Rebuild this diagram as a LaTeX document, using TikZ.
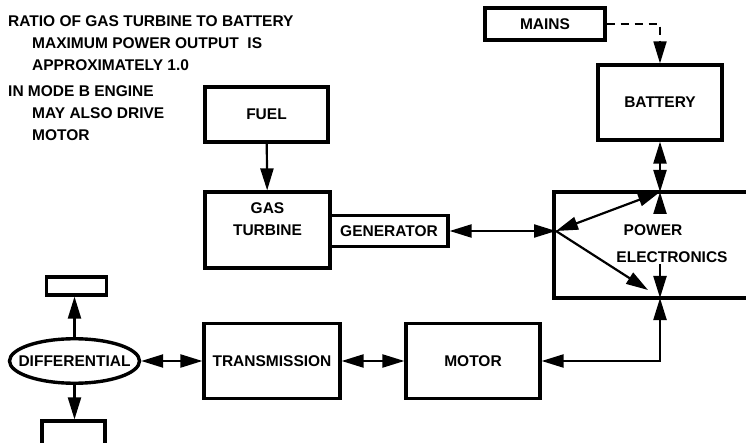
\documentclass[tikz,border=0pt]{standalone}
\usepackage{fontspec}
\setmainfont{Liberation Sans}
\usetikzlibrary{arrows.meta,shapes.geometric}
\tikzset{
  box/.style={draw, line width=3.2pt, inner sep=0pt},
  note/.style={anchor=north west, align=left, inner sep=0pt},
  link/.style={line width=2.2pt, -{Triangle[length=22pt,width=13pt]}},
  twoway/.style={line width=2.2pt, {Triangle[length=22pt,width=13pt]}-{Triangle[length=22pt,width=13pt]}},
}
\begin{document}
\begin{tikzpicture}[x=1pt, y=-1pt, font=\fontsize{15.5}{22}\selectfont\bfseries]
        \useasboundingbox (0,0) rectangle (746,443);
        \node[note] (ratio) at (8,15) {RATIO OF GAS TURBINE TO BATTERY\\\hspace*{24pt}MAXIMUM POWER OUTPUT\ \ IS\\\hspace*{24pt}APPROXIMATELY 1.0};
        \node[note] (mode) at (8,85) {IN MODE B ENGINE\\\hspace*{24pt}MAY ALSO DRIVE\\\hspace*{24pt}MOTOR};
        \node[box, minimum width=120pt, minimum height=32pt] (mains) at (545,24) {MAINS};
        \node[box, minimum width=124pt, minimum height=75pt] (battery) at (660,102.5) {BATTERY};
        \node[box, minimum width=216pt, minimum height=106pt] (power) at (662,245) {};
        \node (powertext) at (653,230) {POWER};
        \node (electext) at (672,257) {ELECTRONICS};
        \node[box, minimum width=123pt, minimum height=55pt] (fuel) at (266.5,114.5) {FUEL};
        \node[box, minimum width=125pt, minimum height=76pt] (turbine) at (267.5,230) {};
        \node[align=center] (turbinetext) at (267.5,219) {GAS\\TURBINE};
        \node[box, minimum width=118pt, minimum height=31pt] (generator) at (389,231) {GENERATOR};
        \node[box, minimum width=136pt, minimum height=75pt] (transmission) at (272,361) {TRANSMISSION};
        \node[box, minimum width=134pt, minimum height=75pt] (motor) at (473,361) {MOTOR};
        \node[ellipse, draw, line width=3.4pt, inner xsep=-10pt, inner ysep=10.4pt] (diff) at (74.5,361) {DIFFERENTIAL};
        \node[box, minimum width=60pt, minimum height=18pt] (topwheel) at (76.7,286) {};
        \node[box, minimum width=63pt, minimum height=25pt] (bottomwheel) at (73.5,433.5) {};
        \coordinate (pj) at (556,231);
        \coordinate (ptop) at (660,192);
        \coordinate (pbot) at (660,298);
        \coordinate (inup) at (660,214);
        \coordinate (indown) at (660,264);
        \coordinate (pdiag) at (648,290);
        \draw[link, line width=1.8pt, dash pattern=on 8pt off 6pt] (mains.east) -| (battery.north);
        \draw[twoway] (battery) -- (ptop);
        \draw[link] (inup) -- (ptop);
        \draw[twoway] (pj) -- (ptop);
        \draw[link] (pj) -- (pdiag);
        \draw[link] (indown) -- (pbot);
        \draw[twoway] (motor.east) -| (pbot);
        \draw[twoway] (generator) -- (pj);
        \draw[link] (fuel) -- (turbine);
        \draw[twoway] (diff) -- (transmission);
        \draw[twoway] (transmission) -- (motor);
        \draw[link] (diff.north) -- (diff.north |- topwheel.south);
        \draw[link] (diff.south) -- (diff.south |- bottomwheel.north);
    \end{tikzpicture}
\end{document}
